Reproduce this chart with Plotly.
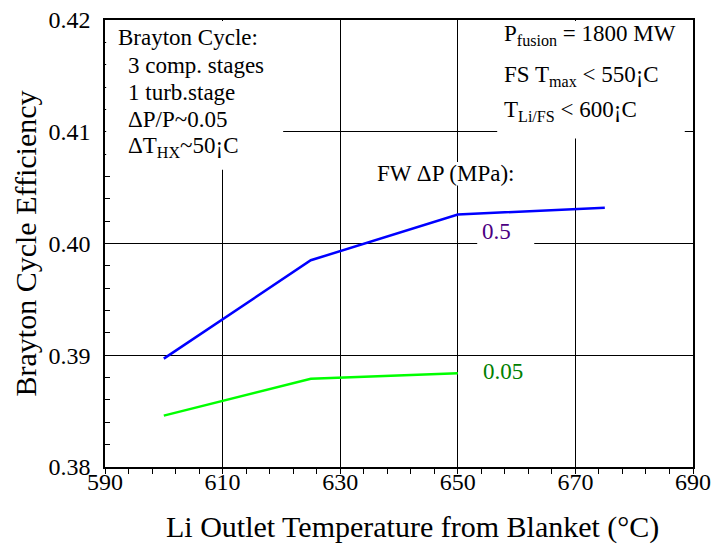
import plotly.graph_objects as go

# ---- data ----
temps_05 = [600, 625, 650, 675]
eff_05 = [0.3897, 0.3985, 0.4026, 0.4032]
temps_005 = [600, 625, 650]
eff_005 = [0.3846, 0.3879, 0.3884]

x_ticks = [590, 610, 630, 650, 670, 690]
y_ticks = [0.38, 0.39, 0.40, 0.41, 0.42]
y_tick_labels = ["0.38", "0.39", "0.40", "0.41", "0.42"]

FONT = "Liberation Serif"

fig = go.Figure()
fig.add_trace(go.Scatter(x=temps_05, y=eff_05, mode="lines",
                         line=dict(color="#0000FF", width=2.5), showlegend=False))
fig.add_trace(go.Scatter(x=temps_005, y=eff_005, mode="lines",
                         line=dict(color="#00FF00", width=2.5), showlegend=False))

# white boxes covering the grid behind text
boxes = [
    (590.2, 620.3, 0.4066, 0.4199),   # left text box
    (656.7, 688.6, 0.4094, 0.4199),   # right text box
    (634.4, 660.6, 0.4052, 0.4073),   # FW label
    (653.3, 663.0, 0.3996, 0.4019),   # 0.5 label
]
for x0, x1, y0, y1 in boxes:
    fig.add_shape(type="rect", x0=x0, x1=x1, y0=y0, y1=y1, xref="x", yref="y",
                  fillcolor="white", line=dict(width=0), layer="above")

def txt(x, y, s, color="black", size=23):
    fig.add_annotation(x=x, y=y, text=s, xref="x", yref="y", showarrow=False,
                       xanchor="left", yanchor="middle",
                       font=dict(family=FONT, size=size, color=color))

txt(591.9, 0.41839, "Brayton Cycle:")
txt(593.6, 0.41597, "3 comp. stages")
txt(593.6, 0.41350, "1 turb.stage")
txt(593.6, 0.41107, "ΔP/P~0.05")
txt(593.6, 0.40867, "ΔT<sub>HX</sub>~50¡C")

txt(657.5, 0.41867, "P<sub>fusion</sub> = 1800 MW")
txt(657.5, 0.41503, "FS T<sub>max</sub> < 550¡C")
txt(657.5, 0.41188, "T<sub>Li/FS</sub> < 600¡C")

txt(636.0, 0.40630, "FW ΔP (MPa):")
txt(653.8, 0.40110, "0.5", color="#4B0082")
txt(654.0, 0.38855, "0.05", color="#008000")

# x-axis title as an annotation (slightly right of plot centre, as in reference)
fig.add_annotation(xref="paper", yref="paper", showarrow=False,
                   x=(412 - 105) / 588, y=-(527 - 467) / 447,
                   text="Li Outlet Temperature from Blanket (°C)",
                   font=dict(family=FONT, size=30, color="black"),
                   xanchor="center", yanchor="middle")

fig.update_xaxes(
    range=[590, 690], tickvals=x_ticks, ticktext=[str(v) for v in x_ticks],
    showgrid=True, gridcolor="black", gridwidth=1,
    ticks="", ticklabelstandoff=-8,
    minor=dict(ticks="outside", ticklen=5, dtick=4, tick0=590, tickcolor="black", showgrid=False),
    showline=True, linecolor="black", linewidth=1.5, mirror=True,
    zeroline=False,
    tickfont=dict(family=FONT, size=24, color="black"),
)
fig.update_yaxes(
    range=[0.38, 0.42], tickvals=y_ticks, ticktext=y_tick_labels,
    showgrid=True, gridcolor="black", gridwidth=1,
    ticks="inside", ticklen=8, tickcolor="black",
    minor=dict(ticks="inside", ticklen=5, dtick=0.002, tick0=0.38, tickcolor="black", showgrid=False),
    showline=True, linecolor="black", linewidth=1.5, mirror=True,
    zeroline=False, ticklabelstandoff=8,
    tickfont=dict(family=FONT, size=24, color="black"),
    title=dict(text="Brayton Cycle Efficiency",
               font=dict(family=FONT, size=30, color="black"), standoff=3),
)
fig.update_layout(
    width=715, height=545,
    margin=dict(l=105, r=22, t=20, b=78, autoexpand=False),
    plot_bgcolor="white", paper_bgcolor="white",
    showlegend=False,
)
fig.write_html("out.html")
